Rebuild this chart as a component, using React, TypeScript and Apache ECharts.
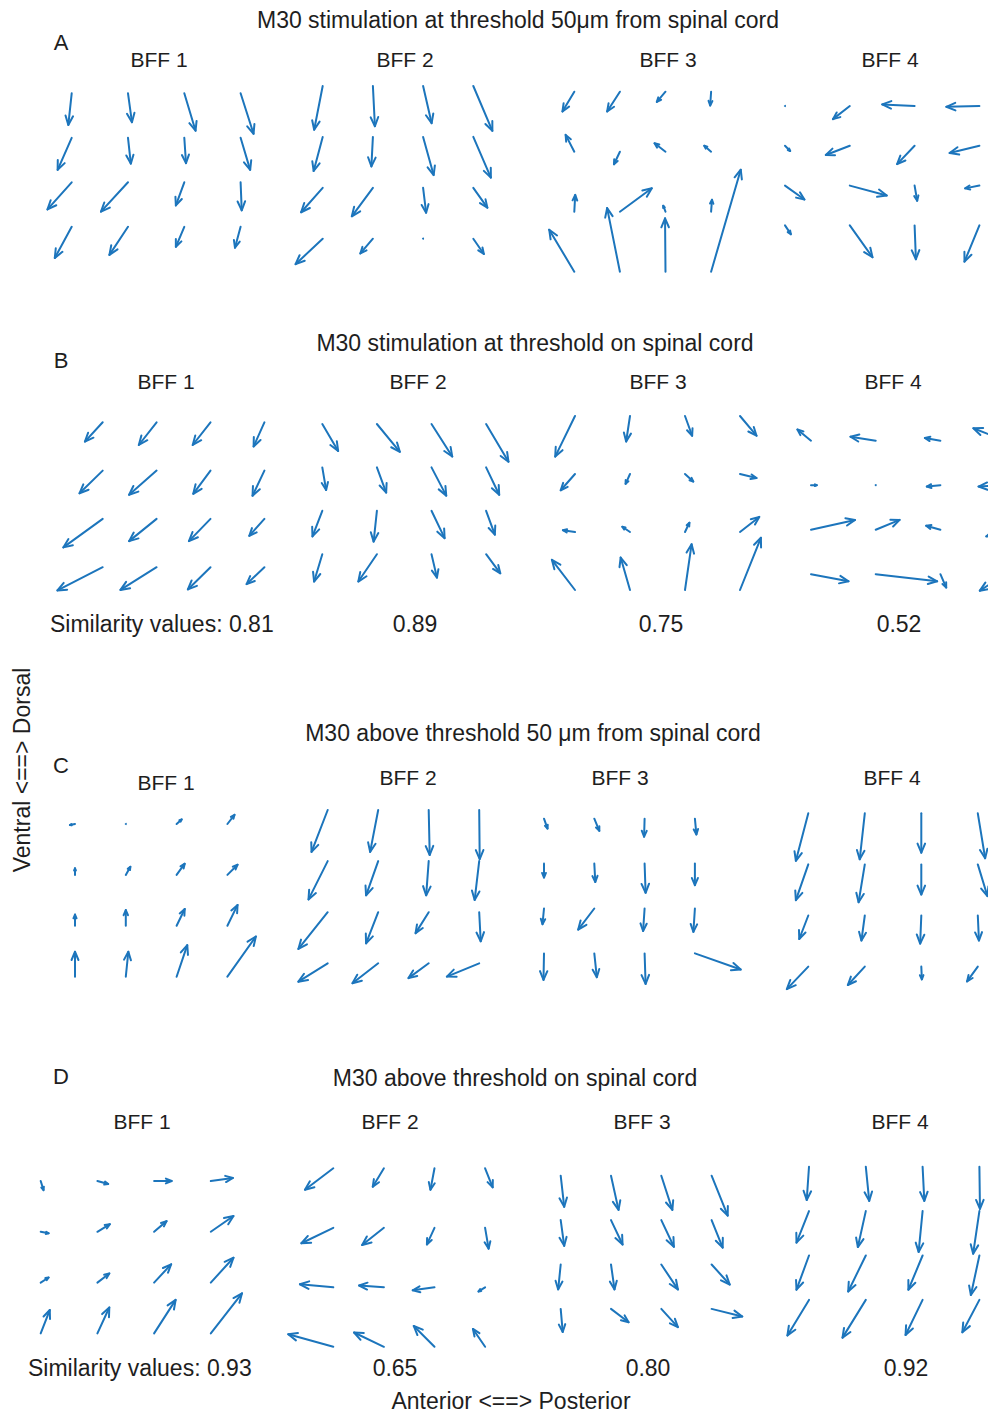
import React, { useEffect, useRef } from "react";
import * as echarts from "echarts";

// Grid: 4 columns (anterior -> posterior) x 4 rows (dorsal at top -> ventral).
// Each vector is [u, v] in grid-spacing units: u to the right (posterior), v upward (dorsal).
// Rows listed from top to bottom, columns left to right.
const COLS = [1, 2, 3, 4];
const ROWS = [4, 3, 2, 1];

const vecA1 = [
  [-0.06, -0.71], [0.07, -0.65], [0.2, -0.84], [0.23, -0.91],
  [-0.25, -0.72], [0.05, -0.58], [0.03, -0.57], [0.17, -0.72],
  [-0.43, -0.61], [-0.48, -0.66], [-0.15, -0.52], [0.02, -0.63],
  [-0.3, -0.7], [-0.33, -0.63], [-0.15, -0.45], [-0.1, -0.47],
];
const vecA2 = [
  [-0.17, -0.86], [0.04, -0.79], [0.17, -0.73], [0.38, -0.88],
  [-0.18, -0.67], [-0.03, -0.58], [0.21, -0.75], [0.35, -0.8],
  [-0.43, -0.48], [-0.42, -0.56], [0.06, -0.49], [0.28, -0.39],
  [-0.54, -0.5], [-0.25, -0.29], [0.01, -0.02], [0.21, -0.3],
];
const vecA3 = [
  [-0.26, -0.33], [-0.28, -0.33], [-0.19, -0.17], [-0.02, -0.23],
  [-0.19, 0.28], [-0.13, -0.21], [-0.24, 0.14], [-0.15, 0.1],
  [0.02, 0.28], [0.7, 0.39], [-0.05, 0.1], [0.02, 0.2],
  [-0.55, 0.7], [-0.28, 1.06], [-0.01, 0.89], [0.65, 1.7],
];
const vecA4 = [
  [-0.03, 0], [-0.26, -0.33], [-0.5, 0.04], [-0.51, -0.02],
  [0.08, -0.13], [-0.37, -0.23], [-0.27, -0.46], [-0.46, -0.18],
  [0.3, -0.35], [0.57, -0.25], [0.04, -0.38], [-0.22, -0.07],
  [0.09, -0.22], [0.35, -0.8], [0.02, -0.85], [-0.23, -0.91],
];
const vecB1 = [
  [-0.33, -0.4], [-0.33, -0.47], [-0.33, -0.47], [-0.2, -0.5],
  [-0.43, -0.47], [-0.51, -0.5], [-0.32, -0.48], [-0.22, -0.52],
  [-0.73, -0.59], [-0.51, -0.46], [-0.4, -0.46], [-0.28, -0.35],
  [-0.84, -0.48], [-0.67, -0.47], [-0.42, -0.46], [-0.33, -0.35],
];
const vecB2 = [
  [0.29, -0.62], [0.42, -0.64], [0.38, -0.75], [0.41, -0.87],
  [0.07, -0.52], [0.17, -0.58], [0.27, -0.65], [0.24, -0.63],
  [-0.18, -0.59], [-0.06, -0.71], [0.24, -0.63], [0.16, -0.55],
  [-0.15, -0.63], [-0.34, -0.63], [0.1, -0.54], [0.26, -0.44],
];
const vecB3 = [
  [-0.36, -0.7], [-0.07, -0.44], [0.13, -0.34], [0.3, -0.34],
  [-0.26, -0.28], [-0.08, -0.17], [0.15, -0.13], [0.3, -0.07],
  [-0.22, 0.03], [-0.14, 0.09], [0.08, 0.16], [0.35, 0.26],
  [-0.42, 0.52], [-0.17, 0.56], [0.12, 0.79], [0.38, 0.9],
];
const vecB4 = [
  [-0.21, 0.25], [-0.39, 0.09], [-0.24, 0.06], [-0.49, 0.28],
  [0.09, 0], [0.01, 0], [-0.21, -0.03], [-0.41, -0.03],
  [0.68, 0.22], [0.37, 0.22], [-0.22, 0.09], [-0.29, -0.15],
  [0.58, -0.16], [0.95, -0.16], [0.09, -0.3], [-0.39, -0.37],
];
const vecC1 = [
  [-0.1, -0.02], [0.01, 0], [0.1, 0.09], [0.14, 0.18],
  [0, 0.13], [0.09, 0.16], [0.16, 0.22], [0.2, 0.2],
  [0, 0.22], [0, 0.31], [0.16, 0.33], [0.2, 0.41],
  [0, 0.49], [0.05, 0.49], [0.21, 0.62], [0.56, 0.79],
];
const vecC2 = [
  [-0.32, -0.82], [-0.16, -0.82], [0.02, -0.88], [0.01, -0.96],
  [-0.38, -0.75], [-0.24, -0.67], [-0.05, -0.67], [-0.09, -0.76],
  [-0.58, -0.72], [-0.24, -0.61], [-0.26, -0.41], [0.03, -0.57],
  [-0.58, -0.36], [-0.51, -0.39], [-0.4, -0.29], [-0.64, -0.26],
];
const vecC3 = [
  [0.07, -0.22], [0.1, -0.27], [-0.01, -0.4], [0.03, -0.35],
  [0, -0.31], [0.02, -0.41], [0.02, -0.65], [0, -0.48],
  [-0.03, -0.35], [-0.32, -0.47], [-0.03, -0.5], [-0.03, -0.52],
  [-0.01, -0.59], [0.05, -0.53], [0.02, -0.68], [0.91, -0.36],
];
const vecC4 = [
  [-0.22, -0.93], [-0.09, -0.9], [0, -0.77], [0.13, -0.88],
  [-0.22, -0.7], [-0.11, -0.74], [0, -0.59], [0.17, -0.62],
  [-0.16, -0.46], [-0.06, -0.49], [-0.02, -0.55], [0.02, -0.49],
  [-0.38, -0.44], [-0.3, -0.36], [0.01, -0.25], [-0.19, -0.29],
];
const vecD1 = [
  [0.05, -0.18], [0.19, -0.06], [0.31, 0], [0.39, 0.06],
  [0.14, -0.03], [0.22, 0.15], [0.22, 0.21], [0.4, 0.31],
  [0.14, 0.1], [0.21, 0.18], [0.3, 0.36], [0.4, 0.49],
  [0.16, 0.46], [0.21, 0.51], [0.38, 0.66], [0.55, 0.79],
];
const vecD2 = [
  [-0.56, -0.36], [-0.22, -0.31], [-0.08, -0.36], [0.15, -0.32],
  [-0.63, -0.26], [-0.43, -0.29], [-0.15, -0.28], [0.07, -0.35],
  [-0.66, 0.05], [-0.49, 0.03], [-0.43, -0.05], [-0.13, -0.07],
  [-0.89, 0.21], [-0.59, 0.24], [-0.41, 0.35], [-0.24, 0.3],
];
const vecD3 = [
  [0.07, -0.7], [0.15, -0.77], [0.22, -0.77], [0.32, -0.9],
  [0.07, -0.58], [0.23, -0.55], [0.25, -0.6], [0.22, -0.62],
  [-0.05, -0.56], [0.07, -0.56], [0.33, -0.56], [0.36, -0.45],
  [0.04, -0.52], [0.35, -0.3], [0.33, -0.41], [0.61, -0.17],
];
const vecD4 = [
  [-0.04, -0.75], [0.06, -0.77], [0.03, -0.77], [0.01, -0.95],
  [-0.22, -0.71], [-0.14, -0.81], [-0.07, -0.92], [-0.11, -0.96],
  [-0.22, -0.77], [-0.31, -0.81], [-0.25, -0.77], [-0.15, -0.89],
  [-0.38, -0.8], [-0.41, -0.85], [-0.3, -0.79], [-0.3, -0.73],
];

const panelLabels = ["BFF 1", "BFF 2", "BFF 3", "BFF 4"];
const rowTitles = [
  "M30 stimulation at threshold 50μm from spinal cord",
  "M30 stimulation at threshold on spinal cord",
  "M30 above threshold 50 μm from spinal cord",
  "M30 above threshold on spinal cord",
];
const rowLetters = ["A", "B", "C", "D"];
const similarityB = ["0.81", "0.89", "0.75", "0.52"];
const similarityD = ["0.93", "0.65", "0.80", "0.92"];

// Layout (pixel placement of each small panel: first grid point and spacing)
const W = 988;
const H = 1415;
const panels = [
  { vec: vecA1, x0: 71.7, sx: 56.3, y0: 93.3, sy: 44.5 },
  { vec: vecA2, x0: 322.7, sx: 50.2, y0: 86, sy: 50.9 },
  { vec: vecA3, x0: 574.3, sx: 45.6, y0: 91.7, sy: 60 },
  { vec: vecA4, x0: 785, sx: 64.8, y0: 106, sy: 39.8 },
  { vec: vecB1, x0: 102.7, sx: 53.9, y0: 422.3, sy: 48.3 },
  { vec: vecB2, x0: 322.3, sx: 54.6, y0: 424, sy: 43.4 },
  { vec: vecB3, x0: 575, sx: 55, y0: 416, sy: 58 },
  { vec: vecB4, x0: 811, sx: 64.7, y0: 440.7, sy: 44.5 },
  { vec: vecC1, x0: 75, sx: 50.8, y0: 824, sy: 50.9 },
  { vec: vecC2, x0: 327.7, sx: 50.5, y0: 810, sy: 51.1 },
  { vec: vecC3, x0: 544, sx: 50.3, y0: 818.7, sy: 44.9 },
  { vec: vecC4, x0: 808.3, sx: 56.5, y0: 813.3, sy: 51.1 },
  { vec: vecD1, x0: 40.7, sx: 56.7, y0: 1181, sy: 50.8 },
  { vec: vecD2, x0: 333.3, sx: 50.6, y0: 1168.3, sy: 59.5 },
  { vec: vecD3, x0: 560.7, sx: 50.3, y0: 1175.7, sy: 44.4 },
  { vec: vecD4, x0: 809, sx: 56.8, y0: 1166.7, sy: 44.4 },
];

const ARROW = "#1c75bc";
const TEXT = "#1e1e1e";
const FONT = '"Liberation Sans", Arial, Helvetica, sans-serif';

function txt(text: string, x: number, y: number, size: number, align = "center", rotation = 0) {
  return {
    type: "text",
    x,
    y,
    rotation,
    silent: true,
    style: {
      text,
      fill: TEXT,
      fontSize: size,
      fontFamily: FONT,
      textAlign: align,
      textVerticalAlign: "middle",
    },
  };
}

function renderArrow(params: any, api: any) {
  const x = api.value(0);
  const y = api.value(1);
  const u = api.value(2);
  const v = api.value(3);
  const p0 = api.coord([x, y]);
  const p1 = api.coord([x + u, y + v]);
  const dx = p1[0] - p0[0];
  const dy = p1[1] - p0[1];
  const L = Math.hypot(dx, dy);
  if (L < 2) {
    return {
      type: "circle",
      shape: { cx: p0[0], cy: p0[1], r: 1 },
      style: { fill: ARROW },
    };
  }
  const ux = dx / L;
  const uy = dy / L;
  const h = Math.min(0.33 * L, 9);
  const w = h * 0.42;
  const left = [p1[0] - ux * h - uy * w, p1[1] - uy * h + ux * w];
  const right = [p1[0] - ux * h + uy * w, p1[1] - uy * h - ux * w];
  const style = { stroke: ARROW, lineWidth: 2, fill: null, lineCap: "round", lineJoin: "round" };
  return {
    type: "group",
    children: [
      { type: "line", shape: { x1: p0[0], y1: p0[1], x2: p1[0], y2: p1[1] }, style },
      { type: "polyline", shape: { points: [left, p1, right] }, style },
    ],
  };
}

export default function App() {
  const ref = useRef<HTMLDivElement>(null);
  useEffect(() => {
    if (!ref.current) return;
    const chart = echarts.init(ref.current, null, { renderer: "svg" });

    const grid: any[] = [];
    const xAxis: any[] = [];
    const yAxis: any[] = [];
    const series: any[] = [];
    panels.forEach((p, i) => {
      const left = p.x0 - 0.5 * p.sx;
      // keep the grid box inside the canvas; extend the axis range instead so the scale stays
      const width = Math.min(4 * p.sx, W - 1 - left);
      grid.push({
        left,
        top: p.y0 - 0.5 * p.sy,
        width,
        height: 4 * p.sy,
        containLabel: false,
      });
      xAxis.push({ type: "value", gridIndex: i, min: 0.5, max: 0.5 + width / p.sx, show: false });
      yAxis.push({ type: "value", gridIndex: i, min: 0.5, max: 4.5, show: false });
      const data: number[][] = [];
      ROWS.forEach((ry, r) => {
        COLS.forEach((cx, c) => {
          const vv = p.vec[r * 4 + c];
          data.push([cx, ry, vv[0], vv[1]]);
        });
      });
      series.push({
        type: "custom",
        xAxisIndex: i,
        yAxisIndex: i,
        clip: false,
        silent: true,
        renderItem: renderArrow,
        data,
      });
    });

    const graphics: any[] = [
      txt(rowTitles[0], 518, 20, 23),
      txt(rowTitles[1], 535, 343, 23),
      txt(rowTitles[2], 533, 733, 23),
      txt(rowTitles[3], 515, 1078, 23),
      txt(rowLetters[0], 61, 42, 22),
      txt(rowLetters[1], 61, 360, 22),
      txt(rowLetters[2], 61, 765, 22),
      txt(rowLetters[3], 61, 1076, 22),
    ];
    const bffX = [
      [159, 405, 668, 890],
      [166, 418, 658, 893],
      [166, 408, 620, 892],
      [142, 390, 642, 900],
    ];
    const bffY = [
      [59, 59, 59, 59],
      [381, 381, 381, 381],
      [782, 777, 777, 777],
      [1121, 1121, 1121, 1121],
    ];
    bffX.forEach((row, r) =>
      row.forEach((x, c) => graphics.push(txt(panelLabels[c], x, bffY[r][c], 21)))
    );
    graphics.push(txt("Similarity values: " + similarityB[0], 50, 624, 23, "left"));
    graphics.push(txt(similarityB[1], 415, 624, 23));
    graphics.push(txt(similarityB[2], 661, 624, 23));
    graphics.push(txt(similarityB[3], 899, 624, 23));
    graphics.push(txt("Similarity values: " + similarityD[0], 28, 1368, 23, "left"));
    graphics.push(txt(similarityD[1], 395, 1368, 23));
    graphics.push(txt(similarityD[2], 648, 1368, 23));
    graphics.push(txt(similarityD[3], 906, 1368, 23));
    graphics.push(txt("Ventral <==> Dorsal", 22, 770, 23, "center", Math.PI / 2));
    graphics.push(txt("Anterior <==> Posterior", 511, 1401, 23));

    chart.setOption({
      animation: false,
      backgroundColor: "#ffffff",
      grid,
      xAxis,
      yAxis,
      series,
      graphic: graphics,
    });
    return () => chart.dispose();
  }, []);

  return (
    <div
      ref={ref}
      style={{ position: "fixed", left: 0, top: 0, width: W, height: H, background: "#fff" }}
    />
  );
}
